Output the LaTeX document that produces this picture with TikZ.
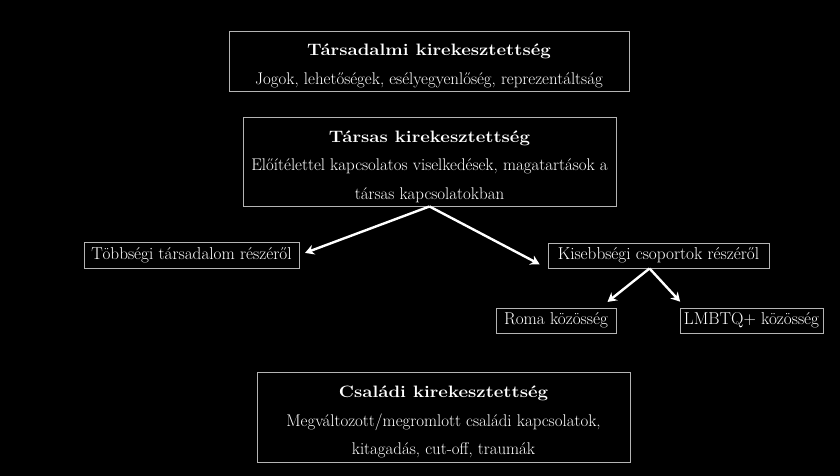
\documentclass[tikz,border=0pt]{standalone}
\usepackage{fontspec}
\usepackage{graphicx}
\usetikzlibrary{arrows.meta,calc}
\definecolor{boxline}{HTML}{B4B4B4}
\newcommand{\ttl}[1]{\scalebox{1.13}[1]{\fontsize{16.5}{28.5}\selectfont\bfseries #1}}
\tikzset{
  frame/.style={draw=boxline, line width=0.9pt, inner sep=0pt},
  bigtext/.style={text=white, align=center, inner sep=0pt, font=\fontsize{16.9}{28.5}\selectfont},
  smallbox/.style={draw=boxline, line width=0.9pt, text=white, inner sep=0pt, font=\fontsize{17.2}{18}\selectfont},
  link/.style={white, line width=2.4pt, -{Stealth[length=9pt,width=10pt]}}
}
\begin{document}
\begin{tikzpicture}[x=1pt,y=-1pt]
\fill[black] (0,0) rectangle (840,476);
\useasboundingbox (0,0) rectangle (840,476);
\node[frame, minimum width=400pt, minimum height=60pt] (tars) at (429,61) {};
\node[bigtext] (tarstxt) at ($(tars.center)+(0,5)$)
  {\ttl{Társadalmi kirekesztettség}\\[1pt]Jogok, lehetőségek, esélyegyenlőség, reprezentáltság};
\node[frame, minimum width=373pt, minimum height=89pt] (tarsas) at (429.5,161.5) {};
\node[bigtext] (tarsastxt) at ($(tarsas.center)+(0,5)$)
  {\ttl{Társas kirekesztettség}\\Előítélettel kapcsolatos viselkedések, magatartások a\\társas kapcsolatokban};
\node[smallbox, minimum width=215pt, minimum height=26pt] (tobb) at (191.5,255)
  {Többségi társadalom részéről};
\node[smallbox, minimum width=221pt, minimum height=25pt] (kis) at (658.5,255.5)
  {Kisebbségi csoportok részéről};
\node[smallbox, minimum width=120pt, minimum height=25pt] (roma) at (556,320.5)
  {Roma közösség};
\node[smallbox, minimum width=143pt, minimum height=25pt] (lmbtq) at (751.5,320.5)
  {LMBTQ+ közösség};
\node[frame, minimum width=373pt, minimum height=90pt] (csal) at (443.5,417) {};
\node[bigtext] (csaltxt) at ($(csal.center)+(0,5)$)
  {\ttl{Családi kirekesztettség}\\Megváltozott/megromlott családi kapcsolatok,\\kitagadás, cut-off, traumák};
\coordinate (kisfoot) at ($(kis.south)+(-9,0)$);
\draw[link, shorten >=6pt] (tarsas.south) -- (tobb.east);
\draw[link, shorten >=9pt] (tarsas.south) -- (kis.south west);
\draw[link, shorten >=9pt] (kisfoot) -- ($(roma.north east)+(-16,0)$);
\draw[link, shorten >=8pt] (kisfoot) -- ($(lmbtq.north west)+(6,0)$);
\end{tikzpicture}
\end{document}
